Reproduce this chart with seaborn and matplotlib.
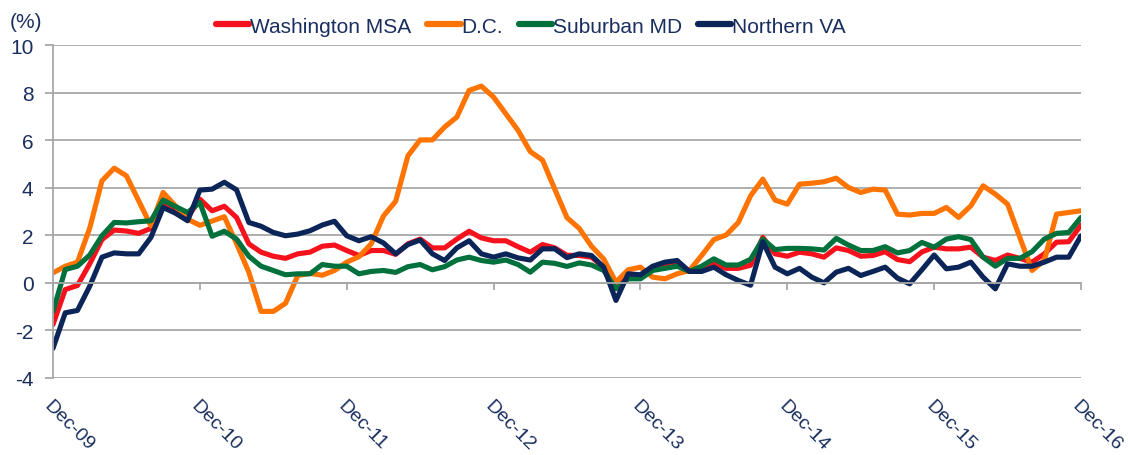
import matplotlib
matplotlib.use("Agg")
import matplotlib.pyplot as plt
import seaborn as sns
import pandas as pd
import numpy as np

# ---- data (monthly, Dec-09 .. Dec-16) ----
tick_labels = ["Dec-09", "Dec-10", "Dec-11", "Dec-12", "Dec-13", "Dec-14", "Dec-15", "Dec-16"]
series_names = ["Washington MSA", "D.C.", "Suburban MD", "Northern VA"]

washington = [-1.75, -0.28, -0.11, 0.8, 1.82, 2.22, 2.18, 2.08, 2.29, 3.27, 3.03, 2.75, 3.52, 3.03, 3.22,
              2.75, 1.64, 1.29, 1.12, 1.03, 1.22, 1.29, 1.54, 1.59, 1.36, 1.15, 1.36, 1.36, 1.2,
              1.64, 1.84, 1.47, 1.47, 1.84, 2.17, 1.89, 1.77, 1.77, 1.52, 1.29, 1.61, 1.47, 1.16,
              1.15, 1.08, 0.66, -0.08, 0.31, 0.31, 0.59, 0.75, 0.84, 0.48, 0.59, 0.84, 0.61, 0.61, 0.74,
              1.91, 1.22, 1.12, 1.29, 1.22, 1.08, 1.47, 1.36, 1.12, 1.15, 1.31, 0.98, 0.89, 1.3,
              1.5, 1.43, 1.43, 1.5, 1.08, 0.94, 1.17, 1.03, 0.87, 1.22, 1.71, 1.73, 2.43]
dc = [0.42, 0.7, 0.87, 2.3, 4.29, 4.82, 4.5, 3.45, 2.4, 3.8, 3.24, 2.68, 2.42, 2.6, 2.78,
      1.65, 0.45, -1.2, -1.2, -0.86, 0.31, 0.4, 0.32, 0.52, 0.87, 1.1, 1.64, 2.81, 3.43,
      5.34, 6.01, 6.01, 6.55, 6.97, 8.09, 8.27, 7.81, 7.11, 6.41, 5.52, 5.16, 3.94, 2.74,
      2.29, 1.54, 1.0, 0.03, 0.55, 0.66, 0.24, 0.17, 0.38, 0.52, 1.15, 1.82, 2.01, 2.54, 3.66,
      4.36, 3.48, 3.31, 4.15, 4.19, 4.25, 4.4, 4.01, 3.8, 3.94, 3.9, 2.89, 2.85, 2.92,
      2.92, 3.17, 2.75, 3.24, 4.08, 3.73, 3.31, 1.91, 0.52, 0.94, 2.89, 2.96, 3.03]
suburban = [-1.2, 0.56, 0.7, 1.17, 1.98, 2.54, 2.52, 2.57, 2.61, 3.48, 3.21, 2.96, 3.38, 1.96, 2.17,
            1.84, 1.12, 0.7, 0.52, 0.34, 0.38, 0.38, 0.77, 0.7, 0.7, 0.38, 0.48, 0.52, 0.44,
            0.68, 0.77, 0.55, 0.68, 0.96, 1.08, 0.94, 0.87, 0.96, 0.77, 0.45, 0.87, 0.82, 0.69,
            0.84, 0.75, 0.52, -0.25, 0.17, 0.17, 0.52, 0.61, 0.7, 0.48, 0.7, 1.01, 0.75, 0.75, 0.99,
            1.84, 1.4, 1.45, 1.45, 1.43, 1.38, 1.87, 1.59, 1.36, 1.36, 1.52, 1.26, 1.36, 1.7,
            1.5, 1.84, 1.94, 1.82, 1.08, 0.7, 1.03, 1.03, 1.31, 1.84, 2.08, 2.12, 2.75]
northern = [-2.75, -1.26, -1.16, -0.14, 1.08, 1.26, 1.22, 1.22, 1.91, 3.17, 2.93, 2.61, 3.9, 3.94, 4.23,
            3.91, 2.54, 2.38, 2.12, 1.98, 2.05, 2.19, 2.43, 2.59, 1.98, 1.77, 1.94, 1.68, 1.22,
            1.61, 1.8, 1.22, 0.94, 1.47, 1.77, 1.22, 1.08, 1.22, 1.05, 0.96, 1.43, 1.43, 1.06,
            1.22, 1.15, 0.66, -0.74, 0.38, 0.34, 0.7, 0.87, 0.94, 0.48, 0.48, 0.66, 0.34, 0.1, -0.1,
            1.73, 0.66, 0.38, 0.61, 0.24, 0.0, 0.45, 0.61, 0.31, 0.48, 0.66, 0.2, -0.04, 0.55,
            1.17, 0.59, 0.66, 0.87, 0.24, -0.25, 0.8, 0.7, 0.7, 0.87, 1.08, 1.08, 1.98]

colors = {"Washington MSA": "#F5121C", "D.C.": "#FF7300",
          "Suburban MD": "#00703C", "Northern VA": "#0C2559"}
text_color = "#1A2F5E"
grid_color = "#A8A8A8"
FS = 15

months = np.arange(len(washington))
df = pd.concat([
    pd.DataFrame({"month": months, "value": vals, "series": name})
    for name, vals in zip(series_names, [washington, dc, suburban, northern])
], ignore_index=True)

sns.set_theme(style="white")
plt.rcParams["font.family"] = ["Liberation Sans", "DejaVu Sans"]

fig = plt.figure(figsize=(11.28, 4.56), dpi=100)
ax = fig.add_axes([53 / 1128, 1 - 379 / 456, (1081 - 53) / 1128, (379 - 46) / 456])

sns.lineplot(data=df, x="month", y="value", hue="series", hue_order=series_names,
             palette=colors, linewidth=3.7, ax=ax, legend=True)
for ln in ax.lines:
    ln.set_solid_joinstyle("round")

ax.set_xlim(0, 84)
ax.set_ylim(-4, 10)
ax.set_xlabel("")
ax.set_ylabel("")

for s in ["top", "right"]:
    ax.spines[s].set_visible(False)
ax.spines["left"].set_color(grid_color)
ax.spines["left"].set_linewidth(1.3)
ax.spines["bottom"].set_position(("data", 0))
ax.spines["bottom"].set_color(grid_color)
ax.spines["bottom"].set_linewidth(1.3)

ax.set_yticks(np.arange(-4, 11, 2))
ax.set_yticklabels([str(v) for v in range(-4, 11, 2)])
ax.set_xticks(np.arange(0, 85, 12))
ax.set_xticklabels(tick_labels)

ax.grid(axis="y", color=grid_color, linewidth=1.3)
ax.grid(axis="x", visible=False)

ax.tick_params(axis="y", left=True, length=6, width=1.3, color=grid_color,
               labelsize=FS, labelcolor=text_color, pad=8)
ax.tick_params(axis="x", bottom=True, length=5, width=1.3, color=grid_color,
               labelsize=14, labelcolor=text_color, pad=77)
plt.setp(ax.get_xticklabels(), rotation=-45, ha="left", va="top", rotation_mode="anchor")

handles, labels = ax.get_legend_handles_labels()
leg = ax.legend(handles, labels, loc="center", bbox_to_anchor=(0.465, 1.057), ncol=4,
                frameon=False, fontsize=FS, handlelength=1.6, handletextpad=0.05,
                columnspacing=0.75, borderaxespad=0)
for t in leg.get_texts():
    t.set_color(text_color)
for h in leg.get_lines():
    h.set_linewidth(4.5)
    h.set_solid_capstyle("round")

fig.text(10 / 1128, 1 - 22 / 456, "(%)", fontsize=FS, color=text_color, va="center", ha="left")

fig.savefig("out.png", dpi=100)
